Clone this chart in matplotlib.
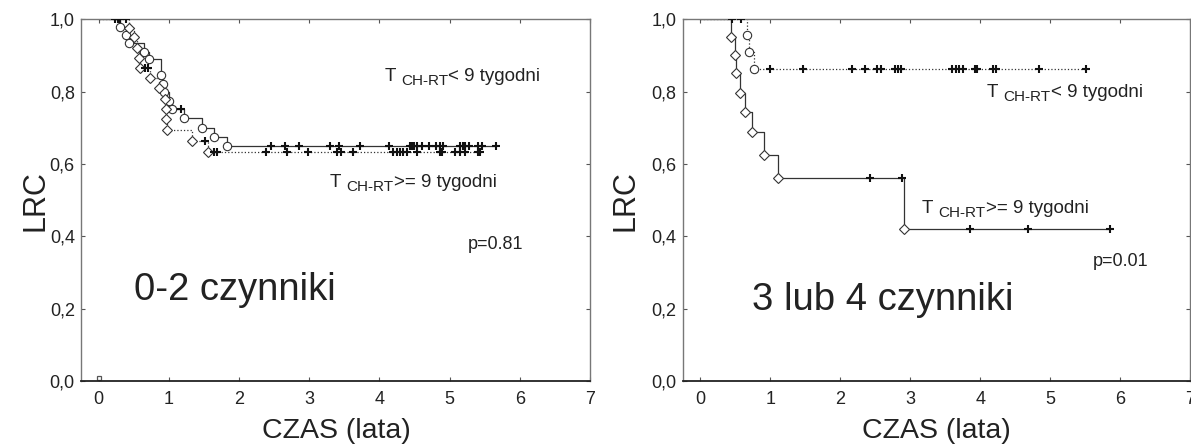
import numpy as np
import matplotlib.pyplot as plt

plt.rcParams['font.family'] = ['Liberation Sans', 'DejaVu Sans']

# ---- data ----
xticks = [0, 1, 2, 3, 4, 5, 6, 7]
yticks = [0.0, 0.2, 0.4, 0.6, 0.8, 1.0]
ytick_labels = ['0,0', '0,2', '0,4', '0,6', '0,8', '1,0']

# panel A: 0-2 czynniki
a_solid_t = [0.31, 0.385, 0.43, 0.65, 0.72, 0.885, 0.92, 0.93, 1.0, 1.04, 1.22, 1.47, 1.64, 1.83]
a_solid_s = [0.98, 0.957, 0.935, 0.91, 0.889, 0.845, 0.82, 0.798, 0.774, 0.751, 0.726, 0.70, 0.675, 0.649]
a_solid_end = 5.66
a_solid_cens = [0.24, 0.27, 0.30, 1.18, 2.45, 2.66, 2.85, 3.30, 3.43, 3.72, 4.13, 4.43, 4.46, 4.49,
                4.53, 4.60, 4.71, 4.81, 4.86, 4.90, 5.15, 5.19, 5.22, 5.27, 5.41, 5.46, 5.66]

a_dot_t = [0.43, 0.50, 0.55, 0.575, 0.595, 0.73, 0.86, 0.94, 0.96, 0.965, 0.97, 1.33, 1.56]
a_dot_s = [0.977, 0.95, 0.922, 0.894, 0.865, 0.837, 0.809, 0.779, 0.751, 0.723, 0.694, 0.664, 0.633]
a_dot_end = 5.45
a_dot_cens = [0.39, 0.66, 0.70, 1.51, 1.64, 1.69, 2.39, 2.69, 2.99, 3.40, 3.46, 3.63, 4.20, 4.25,
              4.29, 4.34, 4.39, 4.53, 4.86, 4.89, 5.08, 5.15, 5.22, 5.41, 5.43]

# panel B: 3 lub 4 czynniki
b_dot_t = [0.665, 0.70, 0.76]
b_dot_s = [0.957, 0.91, 0.863]
b_dot_end = 5.51
b_dot_cens = [0.45, 0.58, 0.99, 1.47, 2.17, 2.35, 2.53, 2.58, 2.78, 2.83, 2.87, 3.60, 3.66, 3.70,
              3.75, 3.92, 3.96, 4.18, 4.23, 4.84, 5.51]

b_solid_t = [0.44, 0.50, 0.51, 0.57, 0.64, 0.74, 0.91, 1.11, 2.91]
b_solid_s = [0.95, 0.90, 0.851, 0.796, 0.743, 0.688, 0.624, 0.56, 0.42]
b_solid_end = 5.86
b_solid_cens = [2.42, 2.88, 3.85, 4.69, 5.86]

LINE = '#333333'
TXT = '#222222'


def km(ax, t, s, end, cens, ls, marker, msize):
    tt = np.array([0.0] + t + [end])
    ss = np.array([1.0] + s + [s[-1]])
    ax.step(tt, ss, where='post', color=LINE, lw=0.9, ls=ls, zorder=2)
    ax.plot(t, s, ls='none', marker=marker, ms=msize, mfc='white', mec=LINE, mew=0.8, zorder=3)
    c = np.array(cens)
    cy = ss[np.searchsorted(tt, c, side='right') - 1]
    ax.plot(c, cy, ls='none', marker='+', ms=6, mew=1.5, color='#111111', zorder=4)


def label(ax, x, y, rel):
    t1 = ax.text(x, y, 'T ', fontsize=13.5, color=TXT, va='baseline')
    t2 = ax.annotate('CH-RT', xy=(1, 0), xycoords=t1, fontsize=11, color=TXT, va='baseline')
    ax.annotate(rel + ' 9 tygodni', xy=(1, 0), xycoords=(t2, t1), fontsize=13.5,
                color=TXT, va='bottom')


def style(ax):
    ax.set_xlim(-0.25, 7)
    ax.set_ylim(0, 1)
    ax.set_xticks(xticks)
    ax.set_yticks(yticks)
    ax.set_yticklabels(ytick_labels)
    ax.tick_params(direction='in', length=3, width=0.8, color='#555555', labelsize=13,
                   labelcolor=TXT, top=True, right=True)
    ax.tick_params(axis='x', pad=7)
    ax.tick_params(axis='y', pad=4.5)
    for side in ['left', 'top', 'right']:
        ax.spines[side].set_color('#777777')
        ax.spines[side].set_linewidth(1.0)
    ax.spines['bottom'].set_color('#222222')
    ax.spines['bottom'].set_linewidth(1.3)


fig = plt.figure(figsize=(11.91, 4.47), dpi=100)
W, H = 1191, 447
ax1 = fig.add_axes([81 / W, 66 / H, 509 / W, 361.7 / H])
ax2 = fig.add_axes([683 / W, 66 / H, 507 / W, 361.7 / H])

km(ax1, a_solid_t, a_solid_s, a_solid_end, a_solid_cens, '-', 'o', 6)
km(ax1, a_dot_t, a_dot_s, a_dot_end, a_dot_cens, ':', 'D', 4.8)
ax1.plot([0], [0.008], ls='none', marker='s', ms=3.5, mfc='white', mec='#555555', mew=0.9, clip_on=False)

km(ax2, b_dot_t, b_dot_s, b_dot_end, b_dot_cens, ':', 'o', 6)
km(ax2, b_solid_t, b_solid_s, b_solid_end, b_solid_cens, '-', 'D', 4.8)

for ax in (ax1, ax2):
    style(ax)

label(ax1, 4.08, 0.83, '<')
label(ax1, 3.30, 0.537, '>=')
ax1.text(6.05, 0.365, 'p=0.81', fontsize=13, ha='right', va='baseline', color=TXT)
ax1.text(0.51, 0.224, '0-2 czynniki', fontsize=27.5, va='baseline', color=TXT)

label(ax2, 4.10, 0.784, '<')
label(ax2, 3.17, 0.464, '>=')
ax2.text(6.41, 0.318, 'p=0.01', fontsize=13, ha='right', va='baseline', color=TXT)
ax2.text(0.74, 0.196, '3 lub 4 czynniki', fontsize=27.5, va='baseline', color=TXT)

for xc, yc in [(36, 201), (625, 201)]:
    fig.text(xc / W, 1 - yc / H, 'LRC', rotation=90, fontsize=22, ha='center', va='center', color=TXT)
for xc in [336, 936]:
    fig.text(xc / W, 1 - 431 / H, 'CZAS (lata)', fontsize=20.5, ha='center', va='center', color=TXT)

fig.savefig('out.png', dpi=100)
